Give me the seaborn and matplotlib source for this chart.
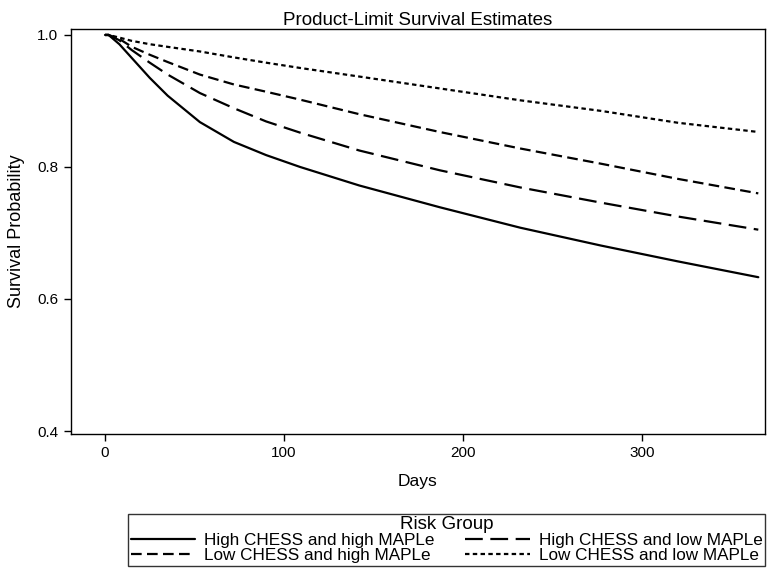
import pandas as pd
import seaborn as sns
import matplotlib.pyplot as plt

# day grid the curves were read on
days = [0, 2, 8, 15, 25, 35, 53, 72, 90, 109, 142, 187, 232, 277, 320, 365]

high_chess_high_maple = [1.0, 1.0, 0.986, 0.965, 0.935, 0.908, 0.868, 0.838, 0.818,
                         0.80, 0.772, 0.739, 0.708, 0.681, 0.657, 0.633]
high_chess_low_maple = [1.0, 1.0, 0.992, 0.977, 0.958, 0.940, 0.912, 0.889, 0.869,
                        0.852, 0.825, 0.795, 0.769, 0.746, 0.725, 0.705]
low_chess_high_maple = [1.0, 1.0, 0.994, 0.982, 0.970, 0.959, 0.940, 0.925, 0.914,
                        0.902, 0.880, 0.853, 0.828, 0.805, 0.782, 0.76]
low_chess_low_maple = [1.0, 1.0, 0.996, 0.991, 0.986, 0.982, 0.975, 0.966, 0.958,
                       0.950, 0.937, 0.919, 0.901, 0.885, 0.867, 0.853]

groups = {
    'High CHESS and high MAPLe': high_chess_high_maple,
    'High CHESS and low MAPLe': high_chess_low_maple,
    'Low CHESS and high MAPLe': low_chess_high_maple,
    'Low CHESS and low MAPLe': low_chess_low_maple,
}

rows = []
for name, vals in groups.items():
    for d, v in zip(days, vals):
        rows.append({'Days': d, 'Survival Probability': v, 'Risk Group': name})
df = pd.DataFrame(rows)

sns.set_style("ticks")
plt.rcParams['font.family'] = ['Liberation Sans', 'DejaVu Sans']
plt.rcParams.update({'text.color': 'black', 'axes.labelcolor': 'black',
                     'xtick.color': 'black', 'ytick.color': 'black'})

dashes = {
    'High CHESS and high MAPLe': '',
    'High CHESS and low MAPLe': (8, 3.4),
    'Low CHESS and high MAPLe': (4.8, 2.4),
    'Low CHESS and low MAPLe': (2, 1.5),
}

fig = plt.figure(figsize=(7.68, 5.69), dpi=100)
ax = fig.add_axes([0.092, 0.2373, 0.904, 0.7117])

sns.lineplot(data=df, x='Days', y='Survival Probability', hue='Risk Group',
             style='Risk Group', dashes=dashes,
             palette=['black'] * 4, linewidth=1.6, ax=ax, legend=True)

ax.set_xlim(-19.2, 368.7)
ax.set_ylim(0.3955, 1.009)
ax.set_xticks([0, 100, 200, 300])
ax.set_yticks([0.4, 0.6, 0.8, 1.0])
ax.set_yticklabels(['0.4', '0.6', '0.8', '1.0'])
ax.tick_params(labelsize=11, length=5, width=1, color='black', labelcolor='black', pad=4)
for s in ax.spines.values():
    s.set_color('black')
    s.set_linewidth(1)

ax.set_title('Product-Limit Survival Estimates', fontsize=13.5, pad=2, color='black')
ax.set_xlabel('Days', fontsize=12.5, labelpad=10, color='black')
ax.set_ylabel('Survival Probability', fontsize=13, labelpad=9, color='black')

handles, labels = ax.get_legend_handles_labels()
lookup = dict(zip(labels, handles))
order = ['High CHESS and high MAPLe', 'Low CHESS and high MAPLe',
         'High CHESS and low MAPLe', 'Low CHESS and low MAPLe']
ax.get_legend().remove()
leg = fig.legend([lookup[o] for o in order], order, title='Risk Group', ncol=2,
                 loc='lower left', bbox_to_anchor=(128 / 768, 3 / 569, 637 / 768, 62 / 569),
                 mode='expand', frameon=True, fancybox=False, edgecolor='black',
                 fontsize=12.3, title_fontsize=13.5, handlelength=3.8, handletextpad=0.5,
                 borderpad=0.15, labelspacing=0.0, columnspacing=1.0, borderaxespad=0)
leg.get_frame().set_linewidth(1)
for t in leg.get_texts():
    t.set_color('black')
leg.get_title().set_color('black')

plt.savefig('out.png', dpi=100)
